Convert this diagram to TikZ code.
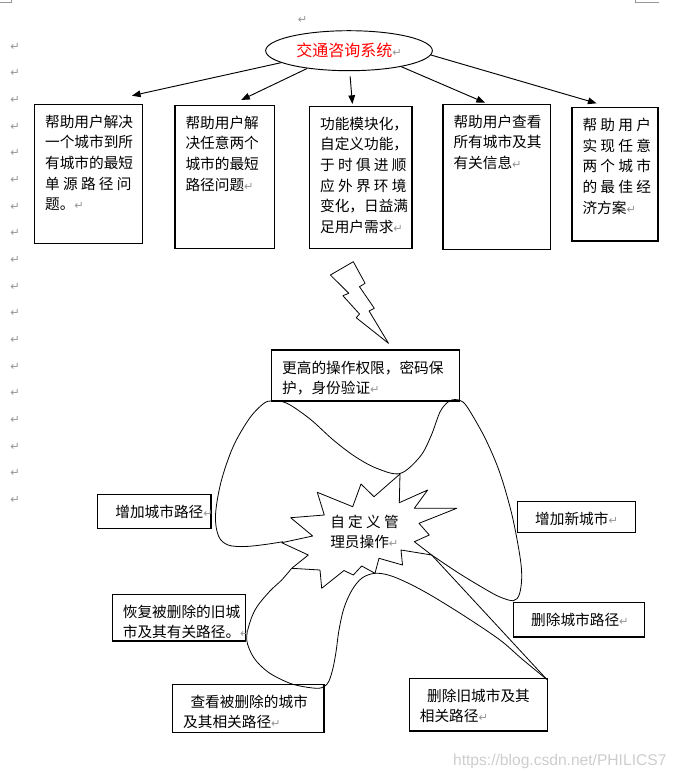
\documentclass[tikz,border=0pt]{standalone}
\usepackage{fontspec}
\setmainfont{Noto Sans CJK SC}
\newfontfamily\symfont{DejaVu Sans}
\newfontfamily\urlfont{Liberation Sans}
\usetikzlibrary{shapes.geometric,arrows.meta}
\definecolor{markgray}{RGB}{150,150,150}
\definecolor{wmgray}{RGB}{205,205,205}
\newcommand\ret{{\color{markgray}\symfont\fontsize{8.5pt}{8.5pt}\selectfont ↵}}
\tikzset{
  txt/.style={below right, inner xsep=7.5pt, inner ysep=7.5pt, align=left, font=\fontsize{11pt}{15.5pt}\selectfont},
  box/.style={line width=0.8pt},
  arr/.style={-{Triangle[length=6.5pt,width=5pt]}, line width=0.7pt},
  retmark/.style={font=\symfont\fontsize{8.5pt}{8.5pt}\selectfont, text=markgray, inner sep=0pt},
  blob/.style={line width=0.6pt, line join=round}
}
\begin{document}
\begin{tikzpicture}[x=0.75pt, y=-0.75pt]
\useasboundingbox (0,0) rectangle (678,779);
\draw[markgray, line width=0.6pt] (0,2.3) -- (11,2.3) -- (11,0) (635.7,0) -- (635.7,2.3) -- (659,2.3);
\node[retmark] (mtop) at (302.6,20) {↵};
\foreach \i in {0,...,17} \node[retmark] (m\i) at (15,46.7+26.65*\i) {↵};

\node[draw, ellipse, line width=0.7pt, minimum width=125pt, minimum height=30pt, inner sep=0pt] (sys) at (349,50.7) {\fontsize{12pt}{12pt}\selectfont\textcolor{red}{交通咨询系统}\ret};

\draw[box] (34.6,104.3) node[txt] (b1) {帮助用户解决\\一个城市到所\\有城市的最短\\单 源 路 径 问\\题。\ret} rectangle (142.7,243.3);
\draw[box] (175,105.3) node[txt] (b2) {帮助用户解\\决任意两个\\城市的最短\\路径问题\ret} rectangle (274.5,248.3);
\draw[box] (309.6,106.3) node[txt] (b3) {功能模块化，\\自定义功能，\\于 时 俱 进 顺\\应 外 界 环 境\\变化，日益满\\足用户需求\ret} rectangle (412,248.3);
\draw[box] (443,104.3) node[txt] (b4) {帮助用户查看\\所有城市及其\\有关信息\ret} rectangle (550.4,249.3);
\draw[box] (572,107.7) node[txt] (b5) {帮 助 用 户\\实 现 任 意\\两 个 城 市\\的 最 佳 经\\济方案\ret} rectangle (658,241);

\coordinate (t1) at (131.9,95.7);
\coordinate (t2) at (241.2,100);
\coordinate (t3) at (352.4,104);
\coordinate (t4) at (485,102.7);
\coordinate (t5) at (596.6,103.3);
\draw[arr] (sys.190) -- (t1);
\draw[arr] (sys.203) -- (t2);
\draw[arr, shorten <=4pt] (sys.272) -- (t3);
\draw[arr] (sys.343) -- (t4);
\draw[arr] (sys.357) -- (t5);

\draw[blob] (353.3,261.7) -- (330.4,275) -- (348.8,293.3) -- (342.9,295.7) -- (359.5,314) -- (356.2,317.7) -- (388.5,343.3) -- (369.1,311) -- (374.3,308.3) -- (359.5,286.7) -- (365.1,283.3) -- cycle;

\draw[box] (271.7,350) node[txt] (auth) {更高的操作权限，密码保\\护，身份验证\ret} rectangle (459.3,401);

\draw[blob] plot[smooth, tension=0.55] coordinates {(283,541.7) (265,544.5) (245,546.5) (228,545) (218.5,536) (215.5,515) (221,482) (233,447) (249,419) (263,404) (272,400.8) (287,403.3) (310,419) (333.3,440) (355,456.5) (376.7,468.3) (400,473.5) (420,456.7) (431,436) (440,412) (448,402) (455,399.5) (463,402) (471,413) (486,440) (500,473.3) (512,515) (520,556.7) (521.7,578) (519.3,594.5) (513.3,600.7) (500,597) (486.7,590) (459,573.3) (431.7,555)};
\draw[blob] (431.7,555) -- (546.7,679.3);
\draw[blob] plot[smooth, tension=0.55] coordinates {(546.7,679.3) (522,659) (500,640) (466,617) (433.3,596.7) (410,584) (390,575.5) (375,573.3) (362,578) (352,590) (344,608) (339,630) (336,652) (333,668) (329,681) (324.3,686.5) (316.7,688.3) (300,686) (286.7,682) (268,672) (254,658) (246.7,640) (250,622) (257,606.7) (270,591) (281.7,580) (291.7,568.3)};

\draw[blob] (400,474) -- (399.3,502.7) -- (427.7,490) -- (414.3,508.3) -- (456.7,508.3) -- (419,523.3) -- (429.3,535) -- (414.3,541.7) -- (431.7,555) -- (401,550) -- (402.5,565) -- (379,558.3) -- (375,573.3) -- (361.7,566) -- (353.3,575) -- (344,570.5) -- (321.7,588.3) -- (320,570) -- (291.7,568.3) -- (308.3,555) -- (281.7,542.7) -- (312.7,536) -- (290.7,517.7) -- (324.3,515) -- (317.3,492.3) -- (352.7,506.7) -- (361,484) -- (374,496.7) -- cycle;
\node[align=left, inner sep=0pt, anchor=north west, font=\fontsize{11pt}{15pt}\selectfont] (adm) at (330,514.4) {自 定 义 管\\理员操作\ret};

\draw[box] (97.5,494.3) node[txt] (addpath) {\hspace*{.5em}增加城市路径\ret} rectangle (211,528.3);
\draw[box] (517.3,501.7) node[txt] (addcity) {\hspace*{.5em}增加新城市\ret} rectangle (635.3,532.3);
\draw[box] (513.3,602.3) node[txt] (delpath) {\hspace*{.5em}删除城市路径\ret} rectangle (644.3,637);
\draw[box] (112.3,594.3) node[txt] (restore) {恢复被删除的旧城\\市及其有关路径。\ret} rectangle (245.7,641);
\draw[box] (172.7,684.3) node[txt] (view) {\hspace*{.5em}查看被删除的城市\\及其相关路径\ret} rectangle (324,732.7);
\draw[box] (409.3,678.3) node[txt] (delcity) {\hspace*{.5em}删除旧城市及其\\相关路径\ret} rectangle (547.3,731);

\node[font=\urlfont\fontsize{11.7pt}{12pt}\selectfont, text=wmgray, inner sep=0pt, anchor=east] (wm) at (666.7,761.7) {https://blog.csdn.net/PHILICS7};
\end{tikzpicture}
\end{document}
